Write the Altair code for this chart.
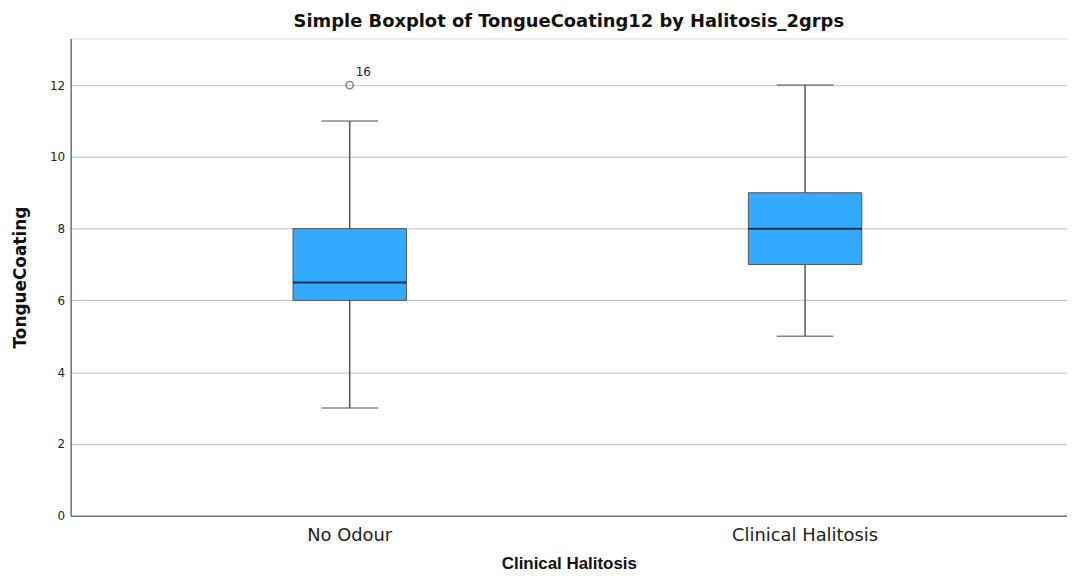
import altair as alt
import pandas as pd

groups = ["No Odour", "Clinical Halitosis"]
whisker_low = [3, 5]
q1 = [6, 7]
median = [6.5, 8]
q3 = [8, 9]
whisker_high = [11, 12]
outlier_group = ["No Odour"]
outlier_value = [12]
outlier_label = ["16"]

box_df = pd.DataFrame({
    "group": groups, "low": whisker_low, "q1": q1, "median": median,
    "q3": q3, "high": whisker_high,
})
out_df = pd.DataFrame({"group": outlier_group, "value": outlier_value, "label": outlier_label})

DJ = "DejaVu Sans"
LIB = "Liberation Sans"
xenc = alt.X("group:N", sort=groups, title="Clinical Halitosis",
             scale=alt.Scale(paddingInner=0, paddingOuter=0.094, align=0.6),
             axis=alt.Axis(labelAngle=0, labelFontSize=18, labelColor="#222222",
                           labelFont=DJ, titleFont=LIB, titleFontSize=17,
                           titleFontWeight="bold", titleColor="#111111",
                           titlePadding=11, labelPadding=11, ticks=False,
                           domainColor="#555555", domainWidth=1.2, grid=False))
yscale = alt.Scale(domain=[0, 13.3], nice=False)
yaxis = alt.Axis(values=[0, 2, 4, 6, 8, 10, 12], title="TongueCoating", labelFont=DJ,
                 labelFontSize=12, labelColor="#222222", titleFont=DJ,
                 titleFontSize=17, titleFontWeight="bold", titleColor="#111111",
                 titlePadding=20, labelPadding=6, ticks=False, domainColor="#555555",
                 domainWidth=1.2, gridColor="#cccccc", gridWidth=1.3)

base = alt.Chart(box_df)
grid = base.mark_rule(opacity=0).encode(
    x=xenc, y=alt.Y("low:Q", scale=yscale, axis=yaxis))
lower = base.mark_rule(color="#555555", strokeWidth=1.5).encode(
    x=alt.X("group:N", sort=groups), y=alt.Y("low:Q"), y2="q1:Q")
upper = base.mark_rule(color="#555555", strokeWidth=1.5).encode(
    x=alt.X("group:N", sort=groups), y=alt.Y("q3:Q"), y2="high:Q")
box = base.mark_bar(size=114, color="#33aaff", stroke="#555555", strokeWidth=1).encode(
    x=alt.X("group:N", sort=groups), y=alt.Y("q1:Q"), y2="q3:Q")
med = base.mark_tick(size=114, thickness=2, color="#000000").encode(
    x=alt.X("group:N", sort=groups), y=alt.Y("median:Q"))
caplow = base.mark_tick(size=57, thickness=1.5, color="#555555").encode(
    x=alt.X("group:N", sort=groups), y=alt.Y("low:Q"))
caphigh = base.mark_tick(size=57, thickness=1.5, color="#555555").encode(
    x=alt.X("group:N", sort=groups), y=alt.Y("high:Q"))
pts = alt.Chart(out_df).mark_point(shape="circle", filled=False, size=55,
                                   color="#555555", strokeWidth=1.5).encode(
    x=alt.X("group:N", sort=groups), y=alt.Y("value:Q"))
lbl = alt.Chart(out_df).mark_text(align="left", baseline="bottom", dx=6, dy=-6,
                                  font=DJ, fontSize=12, color="#222222").encode(
    x=alt.X("group:N", sort=groups), y=alt.Y("value:Q"), text="label:N")

chart = alt.layer(grid, lower, upper, box, med, caplow, caphigh, pts, lbl).properties(
    width=1002, height=480,
    autosize=alt.AutoSizeParams(type="none"),
    padding={"left": 63, "top": 29, "right": 0, "bottom": 58},
    title=alt.TitleParams("Simple Boxplot of TongueCoating12 by Halitosis_2grps",
                          font=DJ, fontSize=18, fontWeight="bold", color="#111111",
                          anchor="middle", offset=8),
).configure_view(stroke=None).configure(background="white")

chart.save("out.html", embed_options={"renderer": "svg", "actions": False})
